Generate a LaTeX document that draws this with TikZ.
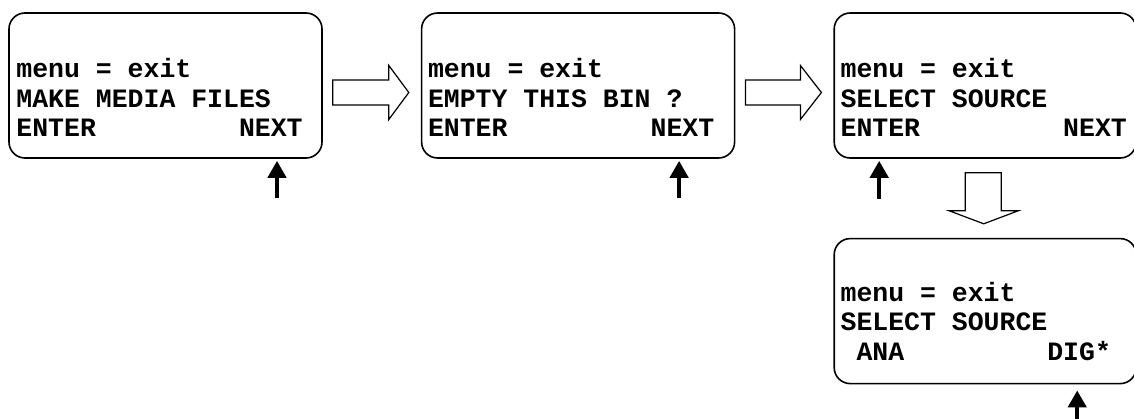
\documentclass[tikz,border=0pt]{standalone}
\usepackage{fontspec}
\newfontfamily\lcdfont{Liberation Mono}
\usetikzlibrary{positioning, arrows.meta, calc}

\begin{document}
\begin{tikzpicture}[
    x=1pt, y=-1pt,
    node distance=79pt and 98pt, % gaps between the screens
    % --- STYLES ---
    screen/.style={rectangle, draw, line width=1.6pt, rounded corners=16pt, minimum width=313pt, minimum height=145pt, inner sep=0pt},
    lcd/.style={anchor=north west, inner sep=0pt, align=left, font=\lcdfont\bfseries\fontsize{26.5pt}{29.5pt}\selectfont},
    hollow/.style={draw, line width=1.2pt, line join=miter, fill=white},
    keypress/.style={line width=4.5pt, -{Triangle[length=17pt, width=18pt]}},
    >=Stealth
]
\useasboundingbox (0,0) rectangle (1134,419);

% --- 1. SCREENS ---
\node (scr_make) [screen] at (165.5,85.5) {};
\node (scr_empty) [screen, right=of scr_make] {};
\node (scr_select) [screen, right=of scr_empty, minimum width=302pt] {};
\node (scr_source) [screen, below=of scr_select, minimum width=302pt] {};

% --- 2. DISPLAY TEXT ---
\node (txt_make) [lcd] at ([shift={(8pt,-46pt)}]scr_make.north west) {menu = exit\\MAKE MEDIA FILES\\ENTER~~~~~~~~~NEXT};
\node (txt_empty) [lcd] at ([shift={(7pt,-46pt)}]scr_empty.north west) {menu = exit\\EMPTY THIS BIN ?\\ENTER~~~~~~~~~NEXT};
\node (txt_select) [lcd] at ([shift={(7pt,-46pt)}]scr_select.north west) {menu = exit\\SELECT SOURCE\\ENTER~~~~~~~~~NEXT};
\node (txt_source) [lcd] at ([shift={(7pt,-44pt)}]scr_source.north west) {menu = exit\\SELECT SOURCE\\~ANA~~~~~~~~~DIG*};

% --- 3. MENU FLOW (hollow arrows) ---
\draw [hollow] ($(scr_make.east)+(10,-5.5)$) -- ++(56,0) -- ++(0,-14.5) -- ++(20,27) -- ++(-20,27) -- ++(0,-14.5) -- ++(-56,0) -- cycle;
\draw [hollow] ($(scr_empty.east)+(10,-5.5)$) -- ++(55,0) -- ++(0,-14.5) -- ++(21,27) -- ++(-21,27) -- ++(0,-14.5) -- ++(-55,0) -- cycle;
\draw [hollow] ($(scr_select.south)+(-20,14)$) -- ++(36,0) -- ++(0,38) -- ++(17,0) -- ++(-34.5,13) -- ++(-34.5,-13) -- ++(16,0) -- cycle;

% --- 4. KEY PRESSES ---
\coordinate (key_make) at ($(scr_make.south)+(111.5,39)$);
\coordinate (key_empty) at ($(scr_empty.south)+(101,39)$);
\coordinate (key_select) at ($(scr_select.south)+(-106,40)$);
\coordinate (key_source) at ($(scr_source.south)+(92,37)$);

\draw [keypress, shorten >=2pt] (key_make) -- (key_make |- scr_make.south);
\draw [keypress, shorten >=2pt] (key_empty) -- (key_empty |- scr_empty.south);
\draw [keypress, shorten >=2pt] (key_select) -- (key_select |- scr_select.south);
\draw [keypress, shorten >=6pt] (key_source) -- (key_source |- scr_source.south);

\end{tikzpicture}
\end{document}
